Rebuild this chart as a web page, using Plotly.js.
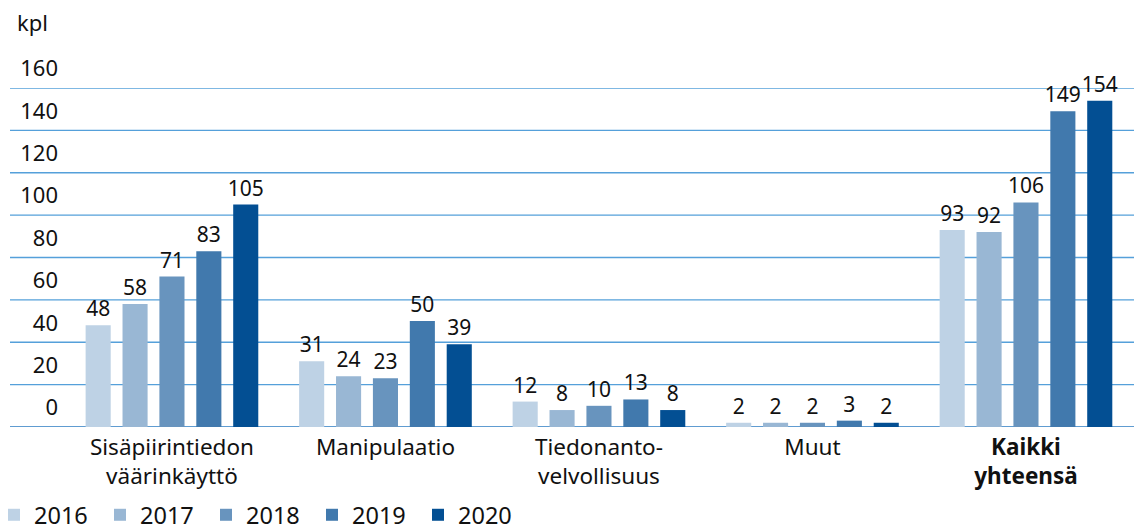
<!DOCTYPE html>
<html>
<head>
<meta charset="utf-8">
<script src="https://cdn.plot.ly/plotly-3.0.1.min.js"></script>
<style>html,body{margin:0;padding:0;background:#fff}#chart{width:1134px;height:531px}</style>
</head>
<body>
<div id="chart"></div>
<script>
const categories = ["Sisäpiirintiedon<br>väärinkäyttö", "Manipulaatio", "Tiedonanto-<br>velvollisuus", "Muut", "<b>Kaikki<br>yhteensä</b>"];
const years = ["2016", "2017", "2018", "2019", "2020"];
const v2016 = [48, 31, 12, 2, 93];
const v2017 = [58, 24, 8, 2, 92];
const v2018 = [71, 23, 10, 2, 106];
const v2019 = [83, 50, 13, 3, 149];
const v2020 = [105, 39, 8, 2, 154];
const series = [v2016, v2017, v2018, v2019, v2020];
const colors = ["#bed2e5", "#99b7d4", "#6894be", "#4179ad", "#034f93"];
const yTicks = [0, 20, 40, 60, 80, 100, 120, 140, 160];

const FONT = "Noto Sans, sans-serif";
const traces = series.map((vals, i) => ({
  type: "bar",
  name: years[i],
  x: categories,
  y: vals,
  marker: {color: colors[i]},
  text: vals.map(String),
  textposition: "outside",
  constraintext: "none",
  textfont: {family: FONT, size: 21, color: "#111"},
  cliponaxis: false,
  hoverinfo: "none"
}));

const marginL = 62, plotW = 1134 - marginL, plotH = 531 - 88 - 104;
const shapes = yTicks.map(t => ({
  type: "line", xref: "paper", yref: "y",
  x0: (10 - marginL) / plotW, x1: 1, y0: t, y1: t,
  line: {color: t === 0 ? "#2b7bc2" : "#55a0da", width: 1.3},
  layer: "below"
}));

const layout = {
  width: 1134, height: 531,
  margin: {l: marginL, r: 0, t: 88, b: 104, autoexpand: false},
  paper_bgcolor: "#fff", plot_bgcolor: "#fff",
  font: {family: FONT, size: 21, color: "#111"},
  barmode: "group",
  bargap: 0.136,
  bargroupgap: 0.32,
  showlegend: true,
  legend: {
    orientation: "h", x: (-6 - marginL) / plotW, xanchor: "left",
    y: -(518 - 3 - 427) / plotH, yanchor: "middle",
    entrywidth: 61, entrywidthmode: "pixels",
    font: {family: FONT, size: 23.5, color: "#111"},
    itemclick: false, itemdoubleclick: false,
    traceorder: "normal"
  },
  xaxis: {
    type: "category",
    automargin: false,
    range: [-0.515, 4.506],
    showgrid: false, zeroline: false, showline: false,
    ticks: "", ticklabelstandoff: 4,
    tickfont: {family: FONT, size: 22.5, color: "#111"},
    fixedrange: true
  },
  yaxis: {
    automargin: false,
    range: [0, 160],
    tickvals: yTicks,
    ticktext: yTicks.map(String),
    showgrid: false, zeroline: false, showline: false,
    ticks: "",
    ticklabelposition: "outside top",
    ticklabelstandoff: 3,
    ticklabelshift: -4,
    tickfont: {family: FONT, size: 22, color: "#111"},
    fixedrange: true
  },
  shapes: shapes,
  annotations: [{
    text: "kpl", xref: "paper", yref: "paper",
    x: (15 - marginL) / plotW, xanchor: "left",
    y: 1 + (88 - 22) / plotH, yanchor: "middle",
    showarrow: false, font: {family: FONT, size: 22, color: "#111"}
  }]
};

Plotly.newPlot("chart", traces, layout, {displayModeBar: false, staticPlot: true});
</script>
</body>
</html>
